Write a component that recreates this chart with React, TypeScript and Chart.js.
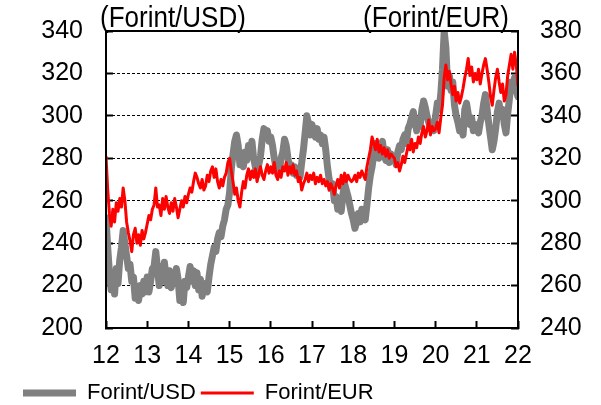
import React, { useEffect, useRef } from "react";
import { Chart, registerables } from "chart.js";

Chart.register(...registerables);

// Data: semi-monthly readings, Jan 2012 .. end 2021 (x axis in 2-digit years)
const startYear = 12;
const pointsPerYear = 24;

const usdRate = [
  // 2012
  252, 238, 226, 218, 225, 216, 228, 221, 232, 238, 246, 240, 234, 228, 230, 222, 224, 214, 218, 213, 220, 216, 222, 217,
  // 2013
  224, 217, 222, 228, 229, 236, 228, 220, 229, 222, 231, 224, 220, 227, 219, 225, 221, 228, 223, 213, 216, 212, 222, 219,
  // 2014
  224, 229, 222, 227, 220, 226, 218, 223, 215, 221, 219, 217, 224, 230, 234, 238, 236, 242, 245, 243, 248, 251, 256, 258,
  // 2015
  264, 275, 282, 288, 291, 286, 277, 281, 276, 283, 279, 286, 282, 288, 280, 276, 272, 277, 281, 289, 294, 291, 293, 288,
  // 2016
  290, 286, 280, 276, 278, 274, 280, 283, 289, 286, 280, 275, 277, 273, 276, 272, 274, 271, 278, 284, 292, 300, 296, 291,
  // 2017
  296, 292, 290, 294, 289, 291, 287, 290, 284, 276, 270, 266, 268, 260, 262, 256, 258, 255, 263, 268, 265, 262, 258, 254,
  // 2018
  251, 247, 250, 254, 250, 256, 252, 251, 258, 266, 272, 276, 282, 287, 283, 280, 285, 288, 282, 279, 284, 278, 282, 280,
  // 2019
  281, 277, 283, 286, 284, 289, 291, 287, 294, 296, 299, 302, 297, 293, 298, 295, 303, 307, 304, 300, 297, 294, 296, 293,
  // 2020
  300, 306, 303, 310, 322, 340, 332, 314, 319, 312, 316, 305, 300, 297, 293, 295, 291, 303, 306, 301, 296, 299, 293, 296,
  // 2021
  295, 292, 297, 300, 306, 310, 303, 296, 290, 284, 288, 294, 302, 306, 300, 303, 296, 292, 301, 308, 316, 313, 318, 312,
  // 2022 start
  309,
];

const eurRate = [
  // 2012
  321, 305, 294, 288, 296, 290, 299, 295, 301, 297, 306, 300, 290, 285, 281, 276, 284, 287, 280, 284, 279, 286, 282, 285,
  // 2013
  289, 293, 291, 296, 298, 306, 297, 298, 293, 301, 296, 302, 297, 294, 299, 295, 301, 297, 292, 296, 300, 297, 302, 299,
  // 2014
  303, 306, 304, 309, 313, 311, 308, 306, 310, 305, 307, 312, 309, 314, 316, 311, 315, 309, 306, 310, 307, 311, 313, 318,
  // 2015
  320, 314, 309, 303, 306, 300, 297, 304, 309, 306, 312, 315, 310, 314, 311, 315, 309, 313, 316, 312, 310, 314, 317, 313,
  // 2016
  316, 313, 318, 312, 310, 314, 311, 316, 314, 318, 312, 316, 313, 317, 312, 314, 309, 311, 305, 308, 310, 313, 309, 312,
  // 2017
  310, 313, 308, 311, 309, 312, 308, 310, 307, 309, 305, 308, 306, 303, 307, 310, 306, 312, 308, 313, 309, 312, 310, 309,
  // 2018
  310, 312, 309, 313, 311, 314, 312, 310, 316, 320, 324, 330, 327, 324, 329, 323, 326, 322, 325, 321, 324, 320, 322, 321,
  // 2019
  320, 316, 318, 314, 317, 321, 318, 322, 326, 324, 329, 323, 327, 325, 330, 327, 332, 335, 330, 333, 338, 331, 335, 333,
  // 2020
  334, 337, 332, 339, 345, 358, 364, 357, 361, 355, 350, 354, 347, 351, 346, 349, 353, 358, 362, 367, 359, 363, 356, 360,
  // 2021
  357, 362, 355, 360, 364, 367, 362, 356, 349, 345, 352, 358, 362, 356, 351, 355, 347, 350, 359, 364, 369, 362, 370, 364,
  // 2022 start
  354,
];

const yearTicks = [12, 13, 14, 15, 16, 17, 18, 19, 20, 21, 22];
const usdAxis = { min: 200, max: 340, step: 20 };
const eurAxis = { min: 240, max: 380, step: 20 };
const usdLabel = "Forint/USD";
const eurLabel = "Forint/EUR";
const usdUnit = "(Forint/USD)";
const eurUnit = "(Forint/EUR)";

const FONT = "'Liberation Sans', Arial, sans-serif";

const framePlugin = {
  id: "frameAndUnits",
  afterDatasetsDraw(chart: any) {
    const { ctx, chartArea } = chart;
    ctx.save();
    ctx.strokeStyle = "#000";
    ctx.lineWidth = 2;
    ctx.setLineDash([]);
    ctx.strokeRect(chartArea.left, chartArea.top, chartArea.right - chartArea.left, chartArea.bottom - chartArea.top);
    ctx.restore();
  },
  afterDraw(chart: any) {
    const { ctx, chartArea } = chart;
    const drawUnit = (text: string, x: number, align: "left" | "right") => {
      ctx.save();
      ctx.translate(x, chartArea.top - 4);
      ctx.scale(1, 1.12);
      ctx.fillStyle = "#000";
      ctx.font = `26px ${FONT}`;
      ctx.textBaseline = "alphabetic";
      ctx.textAlign = align;
      ctx.fillText(text, 0, 0);
      ctx.restore();
    };
    drawUnit(usdUnit, chartArea.left - 6, "left");
    drawUnit(eurUnit, chartArea.right - 9, "right");
  },
};

export default function App() {
  const ref = useRef<HTMLCanvasElement | null>(null);

  useEffect(() => {
    if (!ref.current) return;
    const toPoints = (arr: number[]) => arr.map((v, i) => ({ x: startYear + i / pointsPerYear, y: v }));
    const tickFont = { family: FONT, size: 25 };
    const noPad = (s: any) => {
      s.paddingTop = 0;
      s.paddingBottom = 0;
    };
    const chart = new Chart(ref.current, {
      type: "line",
      data: {
        datasets: [
          {
            label: usdLabel,
            data: toPoints(usdRate),
            borderColor: "#808080",
            backgroundColor: "#808080",
            borderWidth: 7,
            pointRadius: 0,
            tension: 0,
            borderJoinStyle: "round",
            borderCapStyle: "round",
            yAxisID: "y",
            order: 2,
          },
          {
            label: eurLabel,
            data: toPoints(eurRate),
            borderColor: "#ff0000",
            backgroundColor: "#ff0000",
            borderWidth: 3,
            pointRadius: 0,
            tension: 0,
            borderJoinStyle: "round",
            yAxisID: "y2",
            order: 1,
          },
        ],
      },
      options: {
        responsive: false,
        animation: false,
        events: [],
        layout: { padding: { top: 31, left: 18, right: 0, bottom: -9 } },
        plugins: {
          tooltip: { enabled: false },
          title: { display: false },
          legend: {
            display: true,
            position: "bottom",
            align: "start",
            labels: {
              usePointStyle: true,
              pointStyle: "line",
              pointStyleWidth: 53,
              font: { family: FONT, size: 22 },
              color: "#000",
              padding: 5,
              sort: (a: any, b: any) => a.datasetIndex - b.datasetIndex,
            },
          },
        },
        scales: {
          x: {
            type: "linear",
            min: yearTicks[0],
            max: yearTicks[yearTicks.length - 1],
            afterBuildTicks: (s: any) => {
              s.ticks = yearTicks.map((v) => ({ value: v }));
            },
            ticks: { font: tickFont, color: "#000", padding: 20, maxRotation: 0, autoSkip: false, callback: (v: any) => String(v) },
            grid: { drawOnChartArea: false, drawTicks: true, tickLength: -7, tickColor: "#000", tickWidth: 2 },
            border: { display: true, color: "#000", width: 2 },
            afterFit: (s: any) => {
              s.height = 49;
            },
          },
          y: {
            position: "left",
            min: usdAxis.min,
            max: usdAxis.max,
            ticks: { stepSize: usdAxis.step, font: tickFont, color: "#000", padding: 30 },
            grid: { color: "#000", lineWidth: 1, drawTicks: true, tickLength: -7, tickColor: "#000", tickWidth: 2, tickBorderDash: [] },
            border: { display: true, color: "#000", width: 2, dash: [3, 2] },
            afterFit: (s: any) => {
              s.width = 88;
              noPad(s);
            },
          },
          y2: {
            position: "right",
            min: eurAxis.min,
            max: eurAxis.max,
            ticks: { stepSize: eurAxis.step, font: tickFont, color: "#000", padding: 29 },
            grid: { drawOnChartArea: false, drawTicks: true, tickLength: -7, tickColor: "#000", tickWidth: 2, tickBorderDash: [] },
            border: { display: true, color: "#000", width: 2 },
            afterFit: (s: any) => {
              s.width = 83;
              noPad(s);
            },
          },
        },
      } as any,
      plugins: [framePlugin],
    });
    return () => chart.destroy();
  }, []);

  return (
    <div style={{ position: "fixed", left: 0, top: 0, width: 601, height: 405, background: "#fff" }}>
      <canvas ref={ref} width={601} height={405} style={{ display: "block" }} />
    </div>
  );
}
